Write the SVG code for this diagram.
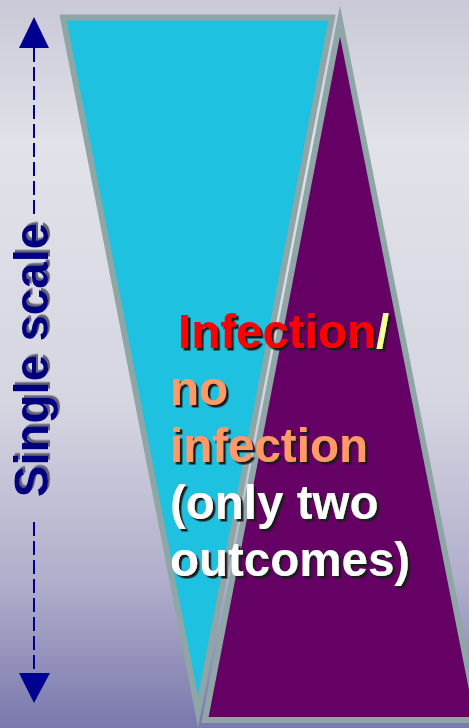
<svg xmlns="http://www.w3.org/2000/svg" width="469" height="728" viewBox="0 0 469 728">
<defs>
<linearGradient id="bg" x1="0" y1="0" x2="0" y2="1">
<stop offset="0" stop-color="#c9c9d7"/>
<stop offset="0.2" stop-color="#e2e2ea"/>
<stop offset="0.55" stop-color="#d6d6e2"/>
<stop offset="0.8" stop-color="#b0aecb"/>
<stop offset="1" stop-color="#7a78ad"/>
</linearGradient>
<filter id="shadow" x="-10%" y="-10%" width="130%" height="130%">
<feDropShadow dx="2.5" dy="2.5" stdDeviation="0.4" flood-color="#1a1a1a" flood-opacity="1"/>
</filter>
<filter id="shadow2" x="-10%" y="-10%" width="130%" height="130%">
<feDropShadow dx="2.5" dy="2" stdDeviation="0.4" flood-color="#555566" flood-opacity="0.9"/>
</filter>
</defs>
<style>
.tri{stroke:#8ea6a6;stroke-width:6;stroke-linejoin:miter;stroke-miterlimit:20}
.lbl{font-family:"Liberation Sans",Arial,sans-serif;font-weight:bold;font-size:47.5px}
.ax{stroke:#000090;stroke-width:2;stroke-dasharray:14 5;fill:none}
.head{fill:#000090}
</style>
<rect width="469" height="728" fill="url(#bg)"/>
<g id="cyan-triangle">
<polygon class="tri" points="63,17.5 332,17.5 198,712" fill="#1fc1e0"/>
</g>
<g id="purple-triangle">
<polygon class="tri" points="340,21 478,720 205,720" fill="#650064"/>
</g>
<g id="connectors">
<line class="ax" x1="34" y1="48" x2="34" y2="218"/>
<line class="ax" x1="34" y1="522" x2="34" y2="673"/>
<polygon class="head" points="34,17 19,48 49,48"/>
<polygon class="head" points="19,673 50,673 34,703"/>
</g>
<g id="scale-label">
<text class="lbl" fill="#000080" filter="url(#shadow2)" transform="translate(48,360) rotate(-90)" text-anchor="middle">Single scale</text>
</g>
<g id="outcome-label" filter="url(#shadow)">
<text class="lbl" x="178" y="348"><tspan fill="#ff0000">Infection</tspan><tspan fill="#ffff99">/</tspan></text>
<text class="lbl" x="170" y="405" fill="#ff9966">no</text>
<text class="lbl" x="170" y="462" fill="#ff9966">infection</text>
<text class="lbl" x="170" y="519" fill="#ffffff">(only two</text>
<text class="lbl" x="170" y="576" fill="#ffffff">outcomes)</text>
</g>
</svg>
